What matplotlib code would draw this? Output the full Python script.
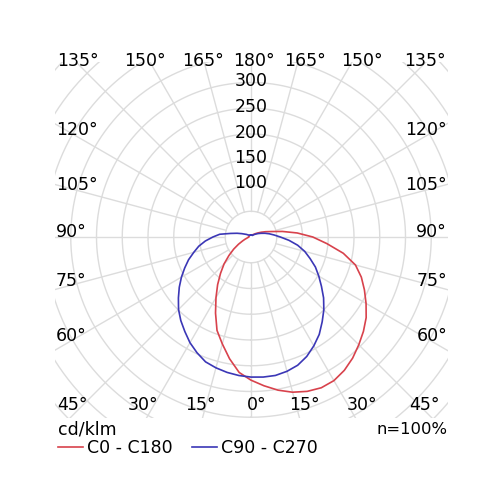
import numpy as np
import matplotlib
matplotlib.use("Agg")
import matplotlib.pyplot as plt
from matplotlib.patches import Rectangle

# luminous intensity (cd/klm) every 5 degrees of gamma, 0 = straight down
gamma = np.arange(0, 181, 5)
c0 = [278, 290, 302, 312, 319, 323, 322, 316, 307, 296,
      285, 273, 258, 243, 228, 210, 182, 148, 120, 90,
      62, 41, 30, 22, 16, 12, 9, 7, 6, 5,
      5, 4, 4, 4, 4, 4, 4]
c180 = [278, 264, 240, 215, 193, 163, 136, 113, 92, 74,
        56, 41, 28, 18, 12, 8, 6, 5, 5, 4,
        4, 4, 4, 4, 4, 4, 4, 4, 4, 4,
        4, 4, 4, 4, 4, 4, 4]
c90 = [272, 273, 273, 270, 265, 256, 244, 231, 215, 200,
       184, 167, 152, 138, 122, 108, 92, 74, 57, 45,
       36, 28, 21, 16, 12, 9, 7, 5, 4, 4,
       4, 4, 4, 4, 4, 4, 4]
c270 = [272, 270, 267, 263, 258, 248, 237, 224, 212, 199,
        184, 170, 156, 142, 129, 115, 103, 89, 74, 61,
        40, 28, 19, 13, 10, 7, 6, 5, 4, 4,
        4, 4, 4, 4, 4, 4, 4]

ring_values = range(50, 601, 50)
value_labels = ["100", "150", "200", "250", "300"]

RED = "#d8424c"
BLUE = "#3b37b6"
GRID = "#dcdcdc"

fig = plt.figure(figsize=(5, 5), dpi=100)

px = 0.515          # pixels per cd/klm
cx, cy = 251, 237   # pole position in pixels (from top-left)
rmax = 600
R = rmax * px
ax = fig.add_axes([(cx - R) / 500, (500 - cy - R) / 500, 2 * R / 500, 2 * R / 500],
                  projection="polar")
ax.set_theta_zero_location("S")
ax.axis("off")

# the diagram is cut to a rectangle, not the usual circle
clip = Rectangle((55 / 500, 1 - 418 / 500), (448 - 55) / 500, (418 - 62) / 500,
                 transform=fig.transFigure, facecolor="none", edgecolor="none")

ring_t = np.linspace(0, 2 * np.pi, 721)
for r in ring_values:
    ln, = ax.plot(ring_t, np.full_like(ring_t, r), color=GRID, lw=1.0, zorder=1)
    ln.set_clip_path(clip)
for a in range(0, 360, 15):
    ln, = ax.plot([np.radians(a)] * 2, [50, rmax], color=GRID, lw=1.0, zorder=1)
    ln.set_clip_path(clip)

th = np.radians(gamma)
theta = np.concatenate([-th[::-1], th[1:]])
red_r = np.concatenate([np.array(c180)[::-1], np.array(c0)[1:]])
blue_r = np.concatenate([np.array(c270)[::-1], np.array(c90)[1:]])
red_line, = ax.plot(theta, red_r, color=RED, lw=1.2, zorder=3, label="C0 - C180")
blue_line, = ax.plot(theta, blue_r, color=BLUE, lw=1.2, zorder=3, label="C90 - C270")
ax.set_ylim(0, rmax)

fs = 12.5


def label(x, y, s, ha="center"):
    fig.text(x / 500, 1 - y / 500, s, ha=ha, va="center", fontsize=fs, color="black")


# angle labels around the frame
for x, s in zip([78, 145, 203, 254, 305, 362, 425],
                ["135°", "150°", "165°", "180°", "165°", "150°", "135°"]):
    label(x, 61, s)
for y, s in zip([130, 185, 232, 281, 336], ["120°", "105°", "90°", "75°", "60°"]):
    label(56, y, s, ha="left")
    label(447, y, s, ha="right")
for x, s in zip([72, 143, 200, 257, 304, 362, 424],
                ["45°", "30°", "15°", "0°", "15°", "30°", "45°"]):
    label(x, 405, s)

# intensity values along the upper axis
for s, y in zip(value_labels, [183, 158, 133, 107, 81]):
    label(251, y, s)

fig.text(447 / 500, 1 - 429 / 500, "n=100%", ha="right", va="center",
         fontsize=11.8, color="black")

fig.legend(handles=[red_line, blue_line], loc="upper left",
           bbox_to_anchor=(58 / 500, 1 - 421 / 500), ncol=2, frameon=False,
           title="cd/klm", alignment="left", fontsize=fs, title_fontsize=fs,
           handlelength=1.45, handletextpad=0.2, columnspacing=1.13,
           labelspacing=0.0, borderpad=0, borderaxespad=0)

fig.savefig("out.png", dpi=100, facecolor="white")
